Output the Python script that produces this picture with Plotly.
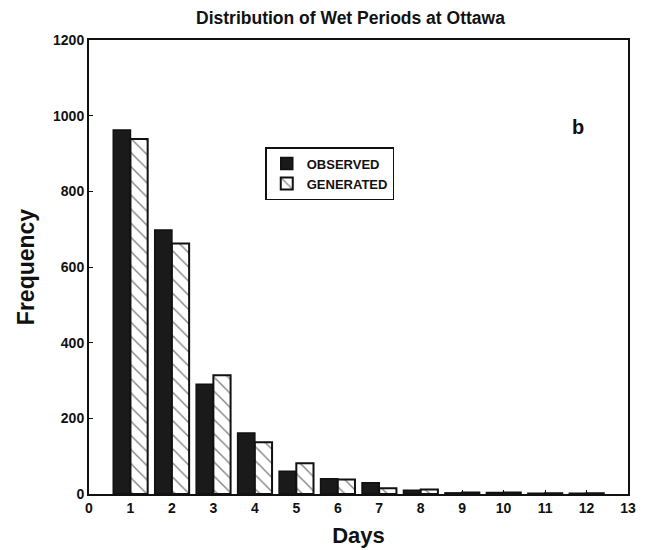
import plotly.graph_objects as go

days = [1, 2, 3, 4, 5, 6, 7, 8, 9, 10, 11, 12]
observed = [962, 698, 290, 161, 60, 40, 30, 10, 3, 4, 2, 2]
generated = [938, 662, 314, 137, 81, 38, 15, 12, 4, 4, 2, 2]

FONT = "Liberation Sans, Arial, sans-serif"

fig = go.Figure()
fig.add_trace(go.Bar(
    x=days, y=observed, name="OBSERVED",
    marker=dict(color="#1a1a1a", line=dict(color="#111", width=1.5)),
))
fig.add_trace(go.Bar(
    x=days, y=generated, name="GENERATED",
    marker=dict(color="white", line=dict(color="#111", width=2),
                pattern=dict(shape="\\", fgcolor="#111", bgcolor="white",
                             size=10, solidity=0.15)),
))

fig.update_layout(
    width=649, height=550,
    margin=dict(l=89, r=21, t=40, b=56, autoexpand=False),
    plot_bgcolor="white", paper_bgcolor="white",
    barmode="group", bargap=0.17, bargroupgap=0.0,
    font=dict(family=FONT, color="#111"),
    title=dict(text="Distribution of Wet Periods at Ottawa",
               x=0.54, xanchor="center", y=0.967, yanchor="middle",
               font=dict(size=17.5, family=FONT, weight="bold", color="#111")),
    legend=dict(x=0.327, y=0.764, xanchor="left", yanchor="top",
                bordercolor="#111", borderwidth=1.5, bgcolor="white",
                font=dict(size=13, family=FONT, weight="bold", color="#111"),
                tracegroupgap=0, itemwidth=30),
    showlegend=True,
)
fig.update_xaxes(
    range=[0, 13], dtick=1, tick0=0, automargin=False,
    showline=True, mirror=True, linecolor="#111", linewidth=2,
    ticks="inside", ticklen=4, tickcolor="#111",
    showgrid=False, zeroline=False,
    tickfont=dict(size=14, family=FONT, weight="bold", color="#111"),
    title=dict(text="Days", standoff=13,
               font=dict(size=22, family=FONT, weight="bold", color="#111")),
)
fig.update_yaxes(
    range=[0, 1200], dtick=200, tick0=0, automargin=False,
    showline=True, mirror=True, linecolor="#111", linewidth=2,
    ticks="inside", ticklen=4, tickcolor="#111",
    showgrid=False, zeroline=False,
    tickfont=dict(size=14, family=FONT, weight="bold", color="#111"),
    title=dict(text="Frequency", standoff=12,
               font=dict(size=23, family=FONT, weight="bold", color="#111")),
)
fig.add_annotation(text="b", x=0.907, y=0.808, xref="paper", yref="paper",
                   xanchor="center", yanchor="middle", showarrow=False,
                   font=dict(size=20, family=FONT, weight="bold", color="#111"))

fig.write_html("out.html")
